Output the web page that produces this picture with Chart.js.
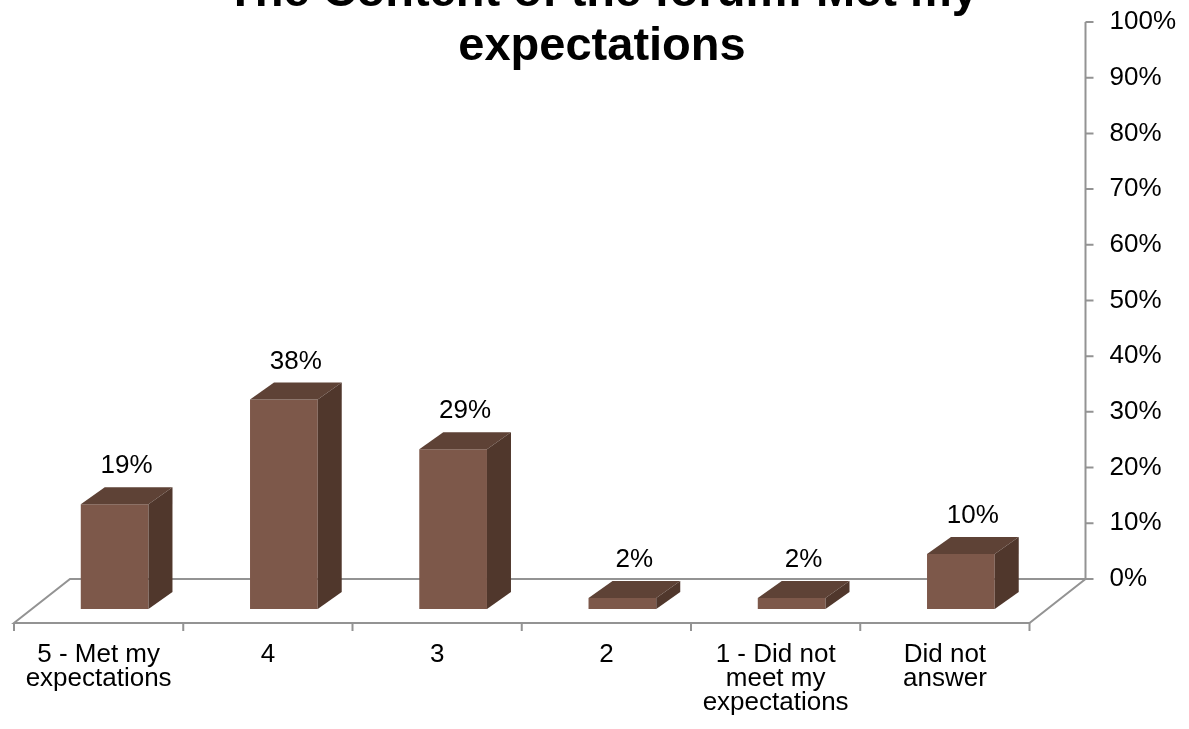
<!DOCTYPE html>
<html>
<head>
<meta charset="utf-8">
<script src="https://cdn.jsdelivr.net/npm/chart.js@4.4.1/dist/chart.umd.min.js"></script>
<style>
    body { margin: 0; background: #fff; }
    #wrap { width: 1189px; height: 729px; position: relative; }
</style>
</head>
<body>
<div id="wrap"><canvas id="myChart"></canvas></div>
<script>
// data
var categories = [
    ['5 - Met my', 'expectations'],
    ['4'],
    ['3'],
    ['2'],
    ['1 - Did not', 'meet my', 'expectations'],
    ['Did not', 'answer']
];
var percents = [19, 38, 29, 2, 2, 10];
var tickValues = [0, 10, 20, 30, 40, 50, 60, 70, 80, 90, 100];
var titleLines = ['The Content of the forum: Met my', 'expectations'];

var FONT = "'Liberation Sans', Arial, sans-serif";

// 3d look: depth of the bars and of the floor (in px)
var barDepth = { dx: 24, dy: -17 };
var floorFront = { dx: -16, dy: 14 };
var floorBack = { dx: 40, dy: -30 };

// title is drawn by hand so it can sit half outside the top edge like the original
var titlePlugin = {
    id: 'titleTop',
    afterDraw: function (chart) {
        var ctx = chart.ctx;
        ctx.save();
        ctx.fillStyle = '#000';
        ctx.font = 'bold 47px ' + FONT;
        ctx.textAlign = 'center';
        ctx.textBaseline = 'alphabetic';
        ctx.fillText(titleLines[0], 602, 6);
        ctx.fillText(titleLines[1], 602, 60);
        ctx.restore();
    }
};

var bar3d = {
    id: 'bar3d',
    beforeDatasetsDraw: function (chart) {
        var ctx = chart.ctx;
        var area = chart.chartArea;
        var y2 = chart.scales.y2;
        var n = categories.length;
        var cw = (area.right - area.left) / n;

        var fl = [area.left + floorFront.dx, area.bottom + floorFront.dy];
        var fr = [area.right + floorFront.dx, area.bottom + floorFront.dy];
        var bl = [area.left + floorBack.dx, area.bottom + floorBack.dy];
        var br = [area.right + floorBack.dx, area.bottom + floorBack.dy];

        ctx.save();
        ctx.strokeStyle = '#939393';
        ctx.lineWidth = 2;
        ctx.beginPath();
        ctx.moveTo(fl[0], fl[1]);
        ctx.lineTo(fr[0], fr[1]);
        ctx.lineTo(br[0], br[1]);
        ctx.lineTo(bl[0], bl[1]);
        ctx.closePath();
        ctx.stroke();

        // category tick marks on the front edge
        ctx.beginPath();
        for (var i = 0; i <= n; i++) {
            var tx = fl[0] + i * cw;
            ctx.moveTo(tx, fl[1]);
            ctx.lineTo(tx, fl[1] + 8);
        }
        ctx.stroke();

        // back wall value axis
        ctx.beginPath();
        ctx.moveTo(br[0], y2.getPixelForValue(0));
        ctx.lineTo(br[0], y2.getPixelForValue(100));
        tickValues.forEach(function (v) {
            var ty = y2.getPixelForValue(v);
            ctx.moveTo(br[0], ty);
            ctx.lineTo(br[0] + 8, ty);
        });
        ctx.stroke();
        ctx.restore();
    },
    afterDatasetsDraw: function (chart) {
        var ctx = chart.ctx;
        var meta = chart.getDatasetMeta(0);
        ctx.save();
        meta.data.forEach(function (bar, i) {
            var w = bar.width;
            var l = bar.x - w / 2, r = bar.x + w / 2;
            var top = bar.y, base = bar.base;
            var dx = barDepth.dx, dy = barDepth.dy;

            ctx.fillStyle = '#5E4236';
            ctx.beginPath();
            ctx.moveTo(l, top);
            ctx.lineTo(l + dx, top + dy);
            ctx.lineTo(r + dx, top + dy);
            ctx.lineTo(r, top);
            ctx.closePath();
            ctx.fill();

            ctx.fillStyle = '#50372C';
            ctx.beginPath();
            ctx.moveTo(r, top);
            ctx.lineTo(r + dx, top + dy);
            ctx.lineTo(r + dx, base + dy);
            ctx.lineTo(r, base);
            ctx.closePath();
            ctx.fill();

            // value label
            ctx.fillStyle = '#000';
            ctx.font = '26px ' + FONT;
            ctx.textAlign = 'center';
            ctx.textBaseline = 'middle';
            ctx.fillText(percents[i] + '%', bar.x + dx / 2, top + dy - 21);
        });
        ctx.restore();
    }
};

var ctx = document.getElementById('myChart').getContext('2d');
var myChart = new Chart(ctx, {
    type: 'bar',
    data: {
        labels: categories,
        datasets: [{
            label: 'Met my expectations',
            data: percents,
            backgroundColor: '#7D584A',
            borderWidth: 0,
            categoryPercentage: 1,
            barPercentage: 0.4,
            yAxisID: 'y'
        }]
    },
    options: {
        responsive: true,
        maintainAspectRatio: false,
        animation: false,
        layout: {
            padding: { left: 30, right: -51, top: 22, bottom: -20 }
        },
        plugins: {
            legend: { display: false },
            tooltip: { enabled: false },
            title: { display: false }
        },
        scales: {
            x: {
                grid: { display: false, drawTicks: false },
                border: { display: false },
                ticks: {
                    color: '#000',
                    font: { family: FONT, size: 26, lineHeight: '24px' },
                    padding: 34,
                    labelOffset: floorFront.dx,
                    maxRotation: 0,
                    autoSkip: false
                }
            },
            y: {
                display: false,
                min: 0,
                max: 106.5
            },
            y2: {
                position: 'right',
                min: -5.4,
                max: 100,
                grid: { display: false, drawTicks: false },
                border: { display: false },
                afterBuildTicks: function (axis) {
                    axis.ticks = tickValues.map(function (v) { return { value: v }; });
                },
                afterFit: function (axis) {
                    // the big label padding should not push the plot area down
                    axis.paddingTop = 0;
                    axis.paddingBottom = 0;
                },
                ticks: {
                    color: '#000',
                    font: { family: FONT, size: 26 },
                    padding: 64,
                    callback: function (v) { return v + '%'; }
                }
            }
        }
    },
    plugins: [bar3d, titlePlugin]
});
</script>
</body>
</html>
